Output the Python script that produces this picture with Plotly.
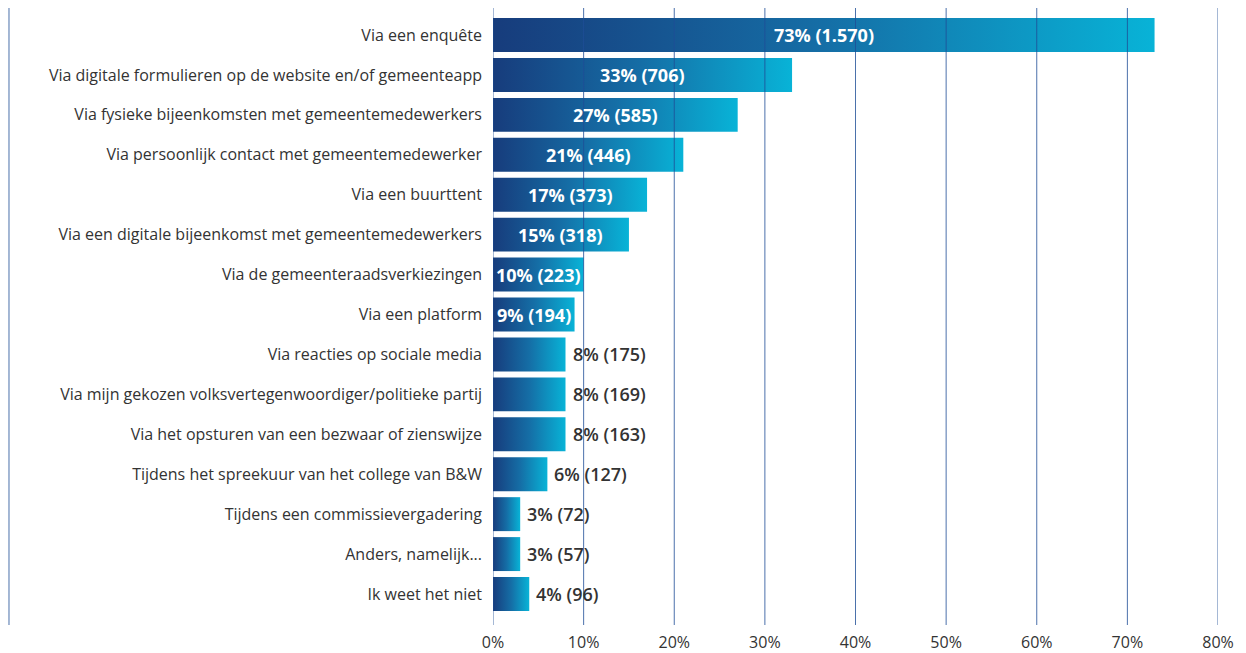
import plotly.graph_objects as go

categories = [
    "Via een enquête",
    "Via digitale formulieren op de website en/of gemeenteapp",
    "Via fysieke bijeenkomsten met gemeentemedewerkers",
    "Via persoonlijk contact met gemeentemedewerker",
    "Via een buurttent",
    "Via een digitale bijeenkomst met gemeentemedewerkers",
    "Via de gemeenteraadsverkiezingen",
    "Via een platform",
    "Via reacties op sociale media",
    "Via mijn gekozen volksvertegenwoordiger/politieke partij",
    "Via het opsturen van een bezwaar of zienswijze",
    "Tijdens het spreekuur van het college van B&W",
    "Tijdens een commissievergadering",
    "Anders, namelijk...",
    "Ik weet het niet",
]
percentages = [73, 33, 27, 21, 17, 15, 10, 9, 8, 8, 8, 6, 3, 3, 4]
counts = ["1.570", "706", "585", "446", "373", "318", "223", "194", "175", "169", "163", "127", "72", "57", "96"]
inside = [True, True, True, True, True, True, True, True, False, False, False, False, False, False, False]
x_ticks = [0, 10, 20, 30, 40, 50, 60, 70, 80]

GRAD = [[0, "#173c7c"], [0.5, "#156ea6"], [1, "#08b3d7"]]
HALF = 0.425
FONT = "Open Sans"
GRID = "rgba(30,78,150,0.8)"

fig = go.Figure()
for i, v in enumerate(percentages):
    fig.add_trace(go.Scatter(
        x=[0, v, v, 0, 0],
        y=[i - HALF, i - HALF, i + HALF, i + HALF, i - HALF],
        mode="lines",
        line=dict(width=0),
        fill="toself",
        fillgradient=dict(type="horizontal", colorscale=GRAD),
        hoverinfo="skip",
        showlegend=False,
    ))

annotations = []
for i, (v, c, ins) in enumerate(zip(percentages, counts, inside)):
    label = f"{v}% ({c})"
    if ins:
        annotations.append(dict(x=v / 2, y=i, text=label, showarrow=False,
                                xanchor="center", yanchor="middle",
                                font=dict(family=FONT, size=18, color="white", weight="bold")))
    else:
        annotations.append(dict(x=v, y=i, text=label, showarrow=False,
                                xanchor="left", yanchor="middle", xshift=5,
                                font=dict(family=FONT, size=18, color="#333333", weight=600)))

shapes = [dict(type="line", xref="x", yref="paper", x0=t, x1=t, y0=0, y1=1,
               layer="above", line=dict(color=GRID, width=1)) for t in x_ticks]
shapes.append(dict(type="line", xref="paper", yref="paper", x0=-0.6676, x1=-0.6676, y0=0, y1=1,
                   line=dict(color=GRID, width=1)))

fig.update_layout(
    width=1238, height=645,
    margin=dict(l=485, r=28, t=0, b=28),
    paper_bgcolor="white", plot_bgcolor="white",
    font=dict(family=FONT, size=16, color="#333333"),
    annotations=annotations,
    shapes=shapes,
)
fig.update_xaxes(
    range=[0, 80], tickvals=x_ticks, ticktext=[f"{t}%" for t in x_ticks],
    showgrid=False, zeroline=False, showline=False, ticks="", ticklabelstandoff=6,
    tickfont=dict(family=FONT, size=16, color="#333333"), fixedrange=True,
)
fig.update_yaxes(
    range=[14.776, -0.676], tickvals=list(range(len(categories))), ticktext=categories,
    showgrid=False, zeroline=False, showline=False, ticks="", ticklabelstandoff=10,
    tickfont=dict(family=FONT, size=16, color="#333333"), fixedrange=True,
)

fig.write_html("out.html")
